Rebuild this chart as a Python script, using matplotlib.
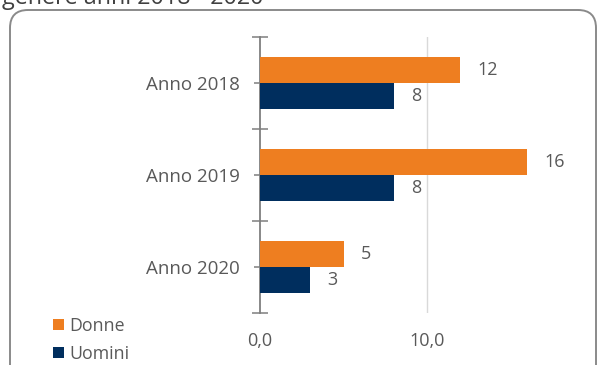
import matplotlib
matplotlib.use("Agg")
import matplotlib.pyplot as plt
from matplotlib.patches import FancyBboxPatch
from matplotlib.transforms import IdentityTransform
import numpy as np

plt.rcParams['font.family'] = ['Open Sans', 'DejaVu Sans']

categories = ["Anno 2018", "Anno 2019", "Anno 2020"]
donne = [12, 16, 5]
uomini = [8, 8, 3]
series_names = ["Donne", "Uomini"]
x_ticks = [0, 10]
x_tick_labels = ["0,0", "10,0"]
title = "genere anni 2018 - 2020"

ORANGE = "#EE7E20"
NAVY = "#002E5E"
TEXT = "#595959"
AXIS = "#7f7f7f"

fig = plt.figure(figsize=(5.98, 3.65), dpi=100)

# rounded chart frame (display pixel coordinates)
frame = FancyBboxPatch((10, -40), 586, 395, boxstyle="round,pad=0,rounding_size=18",
                       transform=IdentityTransform(), facecolor="white",
                       edgecolor="#8a8a8a", linewidth=1.4, zorder=0)
fig.add_artist(frame)

fig.text(0.004, 1 - 4 / 365, title, ha="left", va="baseline",
         fontsize=16.8, color="#404040")

ax = fig.add_axes([260 / 598, (365 - 313) / 365, 334 / 598, 276 / 365])
ax.patch.set_alpha(0)

y = np.arange(len(categories))
h = 0.285
b1 = ax.barh(y - h / 2, donne, height=h, color=ORANGE, label=series_names[0], zorder=3)
b2 = ax.barh(y + h / 2, uomini, height=h, color=NAVY, label=series_names[1], zorder=3)

for bars, vals in ((b1, donne), (b2, uomini)):
    for rect, v in zip(bars, vals):
        ax.annotate(f"{v}", (v, rect.get_y() + rect.get_height() / 2),
                    xytext=(12.5, 0), textcoords="offset points",
                    ha="left", va="center", fontsize=13, color=TEXT)

ax.set_xlim(0, 20)
ax.set_ylim(2.5, -0.5)
ax.set_xticks(x_ticks)
ax.set_xticklabels(x_tick_labels, fontsize=13, color=TEXT)
ax.tick_params(axis="x", length=0, pad=14)
for xv in x_ticks[1:]:
    ax.axvline(xv, color="#d9d9d9", linewidth=1.0, zorder=1)

# category axis: crossing ticks at boundaries, short outside ticks at labels
ax.set_yticks(np.arange(-0.5, len(categories), 1.0))
ax.set_yticklabels([])
ax.set_yticks(y, minor=True)
ax.set_yticklabels(categories, minor=True, fontsize=13.5, color=TEXT)
ax.tick_params(axis="y", which="major", direction="inout", length=11, width=1.1, color=AXIS)
ax.tick_params(axis="y", which="minor", direction="out", length=4, width=1.1, color=AXIS, pad=10.4)

for s in ("top", "right", "bottom"):
    ax.spines[s].set_visible(False)
ax.spines["left"].set_color(AXIS)
ax.spines["left"].set_linewidth(1.3)

fig.legend(handles=[b1, b2], labels=series_names, loc="upper left",
           bbox_to_anchor=(53 / 598, 1 - 317 / 365), frameon=False,
           borderaxespad=0, borderpad=0,
           fontsize=12.8, labelcolor=TEXT, handlelength=0.6, handleheight=0.6,
           handletextpad=0.3, labelspacing=0.55)

fig.savefig("out.png", dpi=100)
